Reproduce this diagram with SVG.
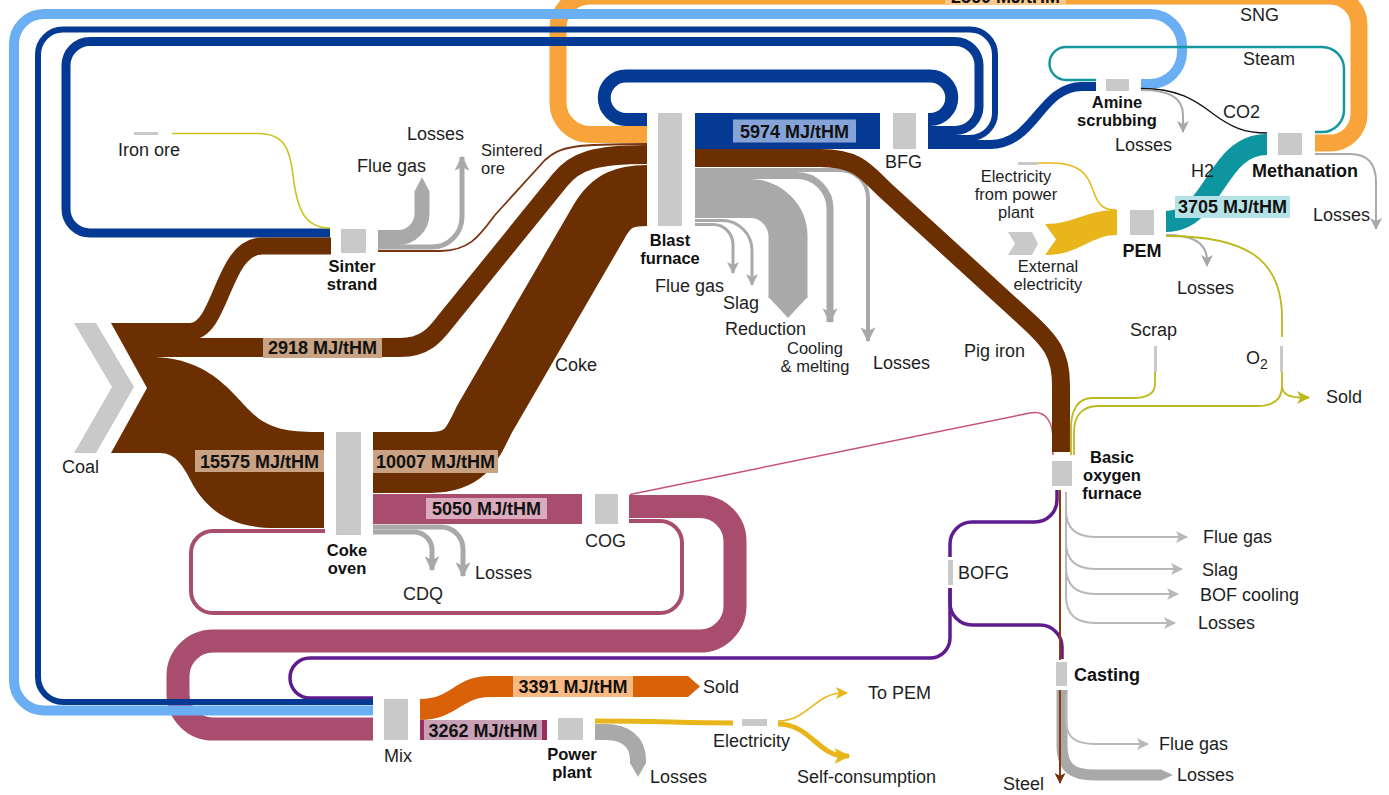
<svg xmlns="http://www.w3.org/2000/svg" width="1389" height="795" viewBox="0 0 1389 795">
<defs>
<style>
.n{fill:#c9c9c9}
.t{font-family:"Liberation Sans",Arial,Helvetica,sans-serif;font-size:18px;fill:#1e1e1e}
.t2{font-size:16.5px}
.b{font-weight:bold;fill:#111}
.m{text-anchor:middle}
.s{fill:none;stroke-linejoin:round}
.br{stroke:#6b2f02}
.db{stroke:#043a94}
.lb{stroke:#6aaef4}
.or{stroke:#f9a43a}
.mv{stroke:#a84d6e}
.pu{stroke:#5f1c8e}
.gr{stroke:#a9a9a9}
.lg{stroke:#b8b8b8}
.ye{stroke:#e8b61a}
.ol{stroke:#bdb81c}
.tl{stroke:#1597a0}
.vb{font-family:"Liberation Sans",Arial,Helvetica,sans-serif;font-size:18px;font-weight:bold;fill:#111;text-anchor:middle}
</style>
<marker id="ag" viewBox="0 0 12 12" refX="11" refY="6" markerWidth="12" markerHeight="12" markerUnits="userSpaceOnUse" orient="auto"><path d="M0,0 L12,6 L0,12 L3,6 Z" fill="#a9a9a9"/></marker>
<marker id="ag2" viewBox="0 0 12 12" refX="11" refY="6" markerWidth="15" markerHeight="15" markerUnits="userSpaceOnUse" orient="auto"><path d="M0,0 L12,6 L0,12 L3,6 Z" fill="#a9a9a9"/></marker>
<marker id="al" viewBox="0 0 12 12" refX="11" refY="6" markerWidth="12" markerHeight="12" markerUnits="userSpaceOnUse" orient="auto"><path d="M0,0 L12,6 L0,12 L3,6 Z" fill="#b8b8b8"/></marker>
<marker id="ay" viewBox="0 0 12 12" refX="11" refY="6" markerWidth="12" markerHeight="12" markerUnits="userSpaceOnUse" orient="auto"><path d="M0,0 L12,6 L0,12 L3,6 Z" fill="#e8b61a"/></marker>
<marker id="ay2" viewBox="0 0 12 12" refX="11" refY="6" markerWidth="16" markerHeight="16" markerUnits="userSpaceOnUse" orient="auto"><path d="M0,0 L12,6 L0,12 L3,6 Z" fill="#e8b61a"/></marker>
<marker id="ao" viewBox="0 0 12 12" refX="11" refY="6" markerWidth="13" markerHeight="13" markerUnits="userSpaceOnUse" orient="auto"><path d="M0,0 L12,6 L0,12 L3,6 Z" fill="#bdb81c"/></marker>
<marker id="ab" viewBox="0 0 12 12" refX="11" refY="6" markerWidth="11" markerHeight="11" markerUnits="userSpaceOnUse" orient="auto"><path d="M0,0 L12,6 L0,12 L3,6 Z" fill="#7a2e0a"/></marker>
</defs>

<g id="connectors">
  <path class="s or" stroke-width="17" d="M1315 143 H1330 A29 29 0 0 0 1359 114 V25 A29 29 0 0 0 1330 -4 H590 A32 32 0 0 0 558 28 V102.5 A32 32 0 0 0 590 134.5 H647"/>
  <rect x="373" y="494" width="209" height="30" fill="#a84d6e"/>
  <path class="s mv" stroke-width="23" d="M629 506.5 H700 A35 35 0 0 1 735 541.5 V606 A35 35 0 0 1 700 641 H213 A35 35 0 0 0 178 676 V694 A35 35 0 0 0 213 729 H373"/>
  <path class="s mv" stroke-width="4" d="M629 521 H660 A22 22 0 0 1 682 543 V591 A22 22 0 0 1 660 613 H213 A22 22 0 0 1 191 591 V553 A22 22 0 0 1 213 531 H325"/>
  <path class="s" stroke="#c8507a" stroke-width="1.5" d="M630 494.5 L1030 413 C1046 410 1053 422 1053 440 V455"/>
  <path class="s pu" stroke-width="3.5" d="M1057 490 V500 A22 22 0 0 1 1035 522 H972 A22 22 0 0 0 950 544 V557"/>
  <path class="s pu" stroke-width="3.5" d="M950 588 V603 A22 22 0 0 0 972 625 H1040 A22 22 0 0 1 1062 647 V659"/>
  <path class="s pu" stroke-width="3.5" d="M950 588 V638 A20 20 0 0 1 930 658 H310 A20 20 0 0 0 290 678 A20 20 0 0 0 310 698 H373"/>
  <path class="s lb" stroke-width="10" d="M1141 84 H1150 A32 32 0 0 0 1182 52 V46 A32 32 0 0 0 1150 14 H44 A30 30 0 0 0 14 44 V680.5 A30 30 0 0 0 44 710.5 H373"/>
  <path class="s db" stroke-width="6" d="M928 138 H970 A25 25 0 0 0 995 113 V54.5 A25 25 0 0 0 970 29.5 H63 A25 25 0 0 0 38 54.5 V677 A25 25 0 0 0 63 702 H373"/>
  <path class="s db" stroke-width="9" d="M928 130.5 H955 A24 24 0 0 0 979 106.5 V65.5 A24 24 0 0 0 955 41.5 H90 A24 24 0 0 0 66 65.5 V209 A24 24 0 0 0 90 233 H330"/>
  <path class="s db" stroke-width="13" d="M928 119.5 H930 A21.75 21.75 0 0 0 951.75 97.75 A21.75 21.75 0 0 0 930 76 H626 A21.75 21.75 0 0 0 604.25 97.75 A21.75 21.75 0 0 0 626 119.5 H647"/>
  <path class="s db" stroke-width="9" d="M928 144.5 H990 C1035 144.5 1040 86.5 1082 86.5 H1096"/>
  <rect x="695" y="113" width="185" height="36" fill="#043a94"/>
  <path fill="#6b2f02" d="M111 323 H200 V357 H150 C215 357 235 400 258 418 C275 430 290 432 324 432 V528 H275 C225 528 205 505 193 485 C183 465 175 453 160 453 H111 L147 388 Z"/>
  <path class="s br" stroke-width="17" d="M190 331.5 C222 331.5 222 246 262 246 H331"/>
  <path class="s br" stroke-width="19" d="M195 347.5 H400 C425 347.5 435 335 445 322 L560 180 C575 161 595 154.5 647 154.5"/>
  <path class="s br" stroke-width="61" d="M373 462.5 H430 C465 462.5 472 445 484 420 L600 220 C612 200 625 195.5 647 195.5"/>
  <path class="s" stroke="#7a3510" stroke-width="1.8" d="M378 251 H440 C470 251 480 235 495 215 L545 160 C560 146 575 144 647 144"/>
  <path class="s" stroke="#c9c21a" stroke-width="1.6" d="M172 133.5 H258 C285 133.5 290 150 293 175 C297 210 305 228 330 228"/>
  <path class="s gr" stroke-width="15" d="M378 237.5 H398 A24 24 0 0 0 422 213.5 V191"/>
  <polygon points="414.5,191.5 422,177 429.5,191.5" fill="#a9a9a9"/>
  <path class="s gr" stroke-width="5" d="M378 247 H432 A30 30 0 0 0 462 217 V157" marker-end="url(#ag2)"/>
  <path class="s gr" stroke-width="4" d="M695 170 H840 A28 28 0 0 1 868 198 V341" marker-end="url(#ag2)"/>
  <path class="s gr" stroke-width="7" d="M695 175.5 H797 A33 33 0 0 1 830 208.5 V322" marker-end="url(#ag2)"/>
  <path class="s gr" stroke-width="39" d="M695 198.5 H750 A38 38 0 0 1 788 236.5 V298"/>
  <polygon points="768.5,297 807.5,297 788,318" fill="#a9a9a9"/>
  <path class="s gr" stroke-width="3" d="M695 220.5 H722 A30 30 0 0 1 752 250.5 V285" marker-end="url(#ag)"/>
  <path class="s gr" stroke-width="3" d="M695 224.5 H713 A20 20 0 0 1 733 244.5 V273" marker-end="url(#ag)"/>
  <path class="s br" stroke-width="18" d="M695 158 H820 C858 158 866 172 885 190 L1025 318 C1052 342 1061 355 1061 385 V452"/>
  <path class="s gr" stroke-width="5" d="M373 527 H441 A22 22 0 0 1 463 549 V576" marker-end="url(#ag2)"/>
  <path class="s gr" stroke-width="5" d="M373 532 H414 A18 18 0 0 1 432 550 V570" marker-end="url(#ag2)"/>
  <path class="s tl" stroke-width="2.5" d="M1315 132 H1322 A22 22 0 0 0 1344 110 V69 A22 22 0 0 0 1322 47 H1066 A16.5 16.5 0 0 0 1049.5 63.5 A16.5 16.5 0 0 0 1066 80 H1096"/>
  <path class="s" stroke="#111" stroke-width="1.3" d="M1141 88.5 C1178 88.5 1195 100 1212 113 C1232 128 1245 133 1267 133"/>
  <path class="s gr" stroke-width="2" d="M1141 90 C1170 90 1183 98 1183 115 V132" marker-end="url(#ag)"/>
  <path class="s gr" stroke-width="2" d="M1315 154 H1350 C1368 154 1376 164 1376 182 V229" marker-end="url(#ag)"/>
  <path class="s" stroke="#0e96a0" stroke-width="21" d="M1166 221.5 C1215 221.5 1215 144.5 1267 144.5"/>
  <path class="s gr" stroke-width="2" d="M1166 235 C1195 235 1207 244 1207 260 V266" marker-end="url(#ag)"/>
  <path class="s ol" stroke-width="1.8" d="M1166 236 C1245 236 1282 258 1282 318 V337"/>
  <path fill="#e8b61a" d="M1045 224 C1075 224 1085 210 1117 210 V235 C1090 235 1080 255 1045 255 L1056 239.5 Z"/>
  <path class="s ye" stroke-width="1.5" d="M1038 163 H1052 C1080 163 1088 175 1093 190 C1098 205 1103 210 1116 210"/>
  <path class="s ol" stroke-width="1.8" d="M1155 372 V384 C1155 394 1147 398 1133 398 H1092 C1078 398 1071 410 1071 428 V455"/>
  <path class="s ol" stroke-width="1.8" d="M1282 372 V386 C1282 400 1272 406 1257 406 H1098 C1082 406 1074 416 1074 432 V455"/>
  <path class="s ol" stroke-width="1.8" d="M1282 386 C1282 394 1290 397.5 1302 397.5 H1309" marker-end="url(#ao)"/>
  <path class="s lg" stroke-width="2" d="M1066 492 V510 C1066 528 1075 537 1095 537 H1187" marker-end="url(#al)"/>
  <path class="s lg" stroke-width="2" d="M1066 492 V542 C1066 560 1075 569 1095 569 H1182" marker-end="url(#al)"/>
  <path class="s lg" stroke-width="2" d="M1066 492 V567 C1066 585 1075 594 1095 594 H1178" marker-end="url(#al)"/>
  <path class="s lg" stroke-width="2" d="M1066 492 V596 C1066 614 1075 623 1095 623 H1175" marker-end="url(#al)"/>
  <path class="s gr" stroke-width="11" d="M1062 690 V745 C1062 768 1072 775 1095 775 H1160"/>
  <polygon points="1160,769 1173,775 1160,781" fill="#a9a9a9"/>
  <path class="s lg" stroke-width="2" d="M1066 695 V720 C1066 738 1076 744 1095 744 H1148" marker-end="url(#al)"/>
  <path class="s" stroke="#8b3a10" stroke-width="2" d="M1060 490 V660"/>
  <path class="s" stroke="#8b3a10" stroke-width="2" d="M1060 690 V783" marker-end="url(#ab)"/>
  <path fill="#d96209" d="M420 699 C452 699 455 676 490 676 H688 L700 686.5 L688 697 H490 C462 697 455 720 420 720 Z"/>
  <rect x="420" y="720" width="127" height="20" fill="#9a2e5e"/>
  <path class="s gr" stroke-width="16" d="M595 732 H605 C626 732 638 742 638 760 V764"/>
  <polygon points="630,763 646,763 638,777" fill="#a9a9a9"/>
  <path class="s ye" stroke-width="5" d="M595 721 C660 721 680 723 733 723"/>
  <path class="s ye" stroke-width="1.5" d="M778 721 C808 721 815 693 843 693 H847" marker-end="url(#ay)"/>
  <path class="s ye" stroke-width="5" d="M778 724 C810 724 818 756 845 756 H849" marker-end="url(#ay2)"/>
</g>

<g id="flow-labels">
  <rect x="945" y="-20" width="121" height="25" fill="#fcc98d"/>
  <text class="vb" x="1005.5" y="3">2560 MJ/tHM</text>
  <rect x="733" y="119.5" width="123" height="23" fill="#86a3d8"/>
  <text class="vb" x="794.5" y="137.5">5974 MJ/tHM</text>
  <rect x="263" y="338" width="119" height="20" fill="#c8a283"/>
  <text class="vb" x="322.5" y="354">2918 MJ/tHM</text>
  <rect x="195" y="450" width="129" height="22" fill="#c8a283"/>
  <text class="vb" x="259.5" y="467.5">15575 MJ/tHM</text>
  <rect x="373" y="450" width="125" height="23" fill="#c8a283"/>
  <text class="vb" x="435.5" y="468">10007 MJ/tHM</text>
  <rect x="426" y="498" width="121" height="21" fill="#dbaabd"/>
  <text class="vb" x="486.5" y="515">5050 MJ/tHM</text>
  <rect x="513" y="676" width="120" height="21" fill="#f9b982"/>
  <text class="vb" x="573" y="692.5">3391 MJ/tHM</text>
  <rect x="424" y="720" width="118" height="20" fill="#c9a1b6"/>
  <text class="vb" x="483" y="736.5">3262 MJ/tHM</text>
  <rect x="1175" y="196" width="115" height="22" fill="#b5e2e6"/>
  <text class="vb" x="1232.5" y="213">3705 MJ/tHM</text>
  <text class="t" x="555" y="371">Coke</text>
  <text class="t" x="964" y="357">Pig iron</text>
  <text class="t" x="1240" y="21">SNG</text>
  <text class="t" x="1243" y="65">Steam</text>
  <text class="t" x="1223" y="118">CO2</text>
  <text class="t" x="1191" y="177">H2</text>
  <text class="t t2" x="481" y="156">Sintered</text>
  <text class="t t2" x="481" y="174">ore</text>
  <text class="t" x="703" y="693">Sold</text>
  <text class="t" x="1326" y="403">Sold</text>
  <text class="t" x="868" y="699">To PEM</text>
  <text class="t" x="797" y="783">Self-consumption</text>
</g>

<g id="coal">
  <polygon class="n" points="74,323 96,323 134,387 96,453 74,453 112,387"/>
  <text class="t" x="62" y="473">Coal</text>
</g>
<g id="iron-ore">
  <rect class="n" x="134" y="132" width="24" height="3"/>
  <text class="t" x="118" y="156">Iron ore</text>
</g>
<g id="sinter-strand">
  <rect class="n" x="341" y="229" width="25" height="24"/>
  <text class="t t2 b m" x="352" y="272">Sinter</text>
  <text class="t t2 b m" x="352" y="290">strand</text>
  <text class="t" x="357" y="172">Flue gas</text>
  <text class="t" x="407" y="140">Losses</text>
</g>
<g id="blast-furnace">
  <rect class="n" x="658" y="113" width="24" height="113"/>
  <text class="t t2 b m" x="670" y="246">Blast</text>
  <text class="t t2 b m" x="670" y="264">furnace</text>
  <text class="t" x="655" y="292">Flue gas</text>
  <text class="t" x="723" y="309">Slag</text>
  <text class="t" x="725" y="335">Reduction</text>
  <text class="t t2 m" x="815" y="354">Cooling</text>
  <text class="t t2 m" x="815" y="372">&amp; melting</text>
  <text class="t" x="873" y="369">Losses</text>
</g>
<g id="bfg">
  <rect class="n" x="893" y="113" width="23" height="36"/>
  <text class="t" x="885" y="168">BFG</text>
</g>
<g id="amine-scrubbing">
  <rect class="n" x="1106" y="79" width="23" height="12"/>
  <text class="t t2 b m" x="1117" y="108">Amine</text>
  <text class="t t2 b m" x="1117" y="126">scrubbing</text>
  <text class="t" x="1115" y="151">Losses</text>
</g>
<g id="methanation">
  <rect class="n" x="1278" y="133" width="24" height="22"/>
  <text class="t b m" x="1305" y="177">Methanation</text>
  <text class="t" x="1313" y="221">Losses</text>
</g>
<g id="electricity-from-power-plant">
  <rect class="n" x="1018" y="162" width="20" height="3"/>
  <text class="t t2 m" x="1016" y="182">Electricity</text>
  <text class="t t2 m" x="1016" y="200">from power</text>
  <text class="t t2 m" x="1016" y="218">plant</text>
</g>
<g id="external-electricity">
  <polygon class="n" points="1008,232 1032,232 1038,243.5 1032,255 1008,255 1015,243.5"/>
  <text class="t t2 m" x="1048" y="272">External</text>
  <text class="t t2 m" x="1048" y="290">electricity</text>
</g>
<g id="pem">
  <rect class="n" x="1130" y="210" width="24" height="25"/>
  <text class="t b m" x="1142" y="257">PEM</text>
  <text class="t" x="1177" y="294">Losses</text>
</g>
<g id="scrap">
  <rect class="n" x="1154" y="346" width="3" height="26"/>
  <text class="t" x="1130" y="336">Scrap</text>
</g>
<g id="o2">
  <rect class="n" x="1280" y="346" width="3" height="26"/>
  <text class="t" x="1246" y="364">O<tspan font-size="14" dy="5">2</tspan></text>
</g>
<g id="basic-oxygen-furnace">
  <rect class="n" x="1052" y="461" width="20" height="25"/>
  <text class="t t2 b m" x="1112" y="463">Basic</text>
  <text class="t t2 b m" x="1112" y="481">oxygen</text>
  <text class="t t2 b m" x="1112" y="499">furnace</text>
  <text class="t" x="1203" y="543">Flue gas</text>
  <text class="t" x="1202" y="576">Slag</text>
  <text class="t" x="1200" y="601">BOF cooling</text>
  <text class="t" x="1198" y="629">Losses</text>
</g>
<g id="bofg">
  <rect class="n" x="948" y="560" width="5" height="25"/>
  <text class="t" x="958" y="579">BOFG</text>
</g>
<g id="casting">
  <rect class="n" x="1056" y="662" width="11" height="24"/>
  <text class="t b" x="1074" y="681">Casting</text>
  <text class="t" x="1159" y="750">Flue gas</text>
  <text class="t" x="1177" y="781">Losses</text>
  <text class="t" x="1003" y="790">Steel</text>
</g>
<g id="coke-oven">
  <rect class="n" x="336" y="432" width="25" height="103"/>
  <text class="t t2 b m" x="347" y="556">Coke</text>
  <text class="t t2 b m" x="347" y="574">oven</text>
  <text class="t" x="403" y="600">CDQ</text>
  <text class="t" x="475" y="579">Losses</text>
</g>
<g id="cog">
  <rect class="n" x="595" y="494" width="23" height="30"/>
  <text class="t" x="585" y="547">COG</text>
</g>
<g id="mix">
  <rect class="n" x="384" y="699" width="24" height="41"/>
  <text class="t" x="384" y="762">Mix</text>
</g>
<g id="power-plant">
  <rect class="n" x="558" y="718" width="25" height="22"/>
  <text class="t t2 b m" x="572" y="760">Power</text>
  <text class="t t2 b m" x="572" y="778">plant</text>
  <text class="t" x="650" y="783">Losses</text>
</g>
<g id="electricity">
  <rect class="n" x="742" y="719" width="25" height="7"/>
  <text class="t" x="713" y="747">Electricity</text>
</g>
</svg>
